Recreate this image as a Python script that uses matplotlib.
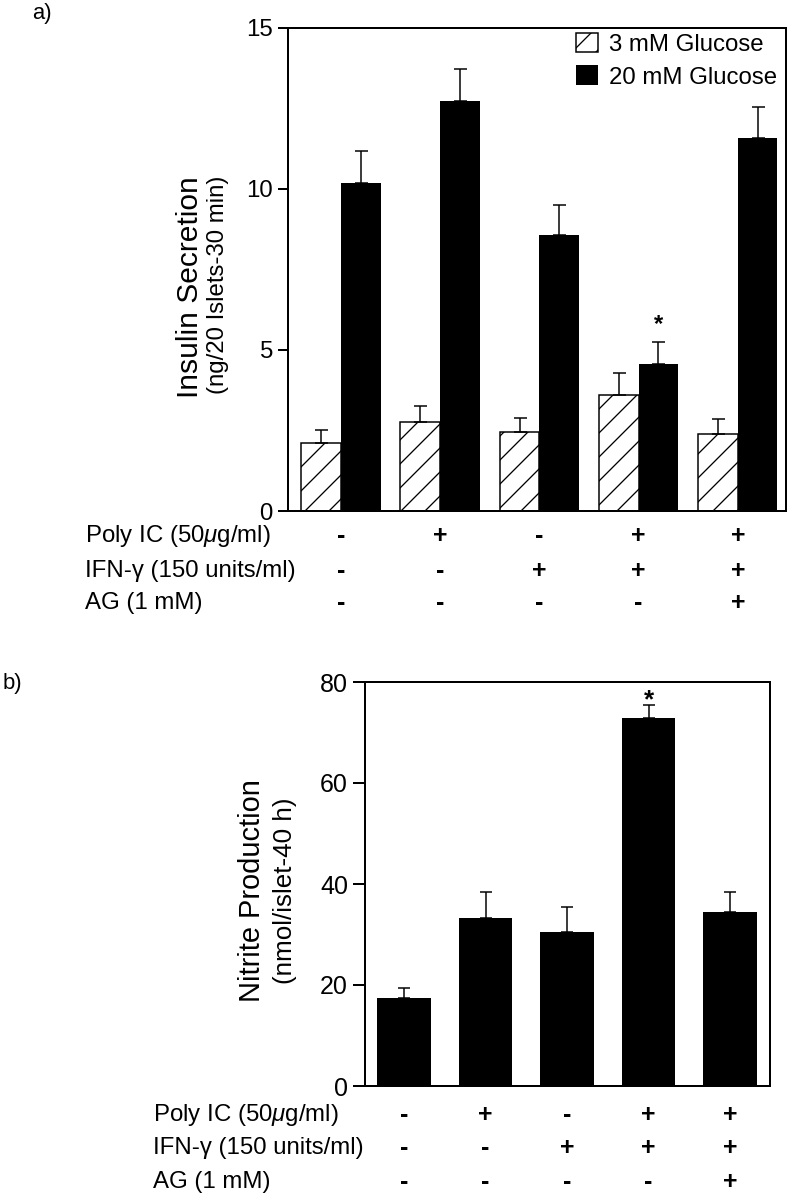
import matplotlib.pyplot as plt
import numpy as np

plt.rcParams['font.family'] = ['Liberation Sans', 'DejaVu Sans']
plt.rcParams['mathtext.fontset'] = 'custom'
plt.rcParams['mathtext.rm'] = 'Liberation Sans'
plt.rcParams['mathtext.it'] = 'Liberation Sans:italic'
plt.rcParams['hatch.linewidth'] = 1.3

# treatment table (same for both panels)
row_labels = ['Poly IC (50$\\mu$g/ml)', 'IFN-\u03b3 (150 units/ml)', 'AG (1 mM)']
poly_ic = ['-', '+', '-', '+', '+']
ifn_gamma = ['-', '-', '+', '+', '+']
ag = ['-', '-', '-', '-', '+']

# panel a - insulin secretion
insulin_3mM = [2.1, 2.76, 2.45, 3.6, 2.39]
insulin_3mM_err = [0.4, 0.5, 0.45, 0.7, 0.47]
insulin_20mM = [10.19, 12.73, 8.57, 4.57, 11.58]
insulin_20mM_err = [0.99, 1.0, 0.93, 0.68, 0.97]

# panel b - nitrite production
nitrite = [17.4, 33.3, 30.5, 72.9, 34.5]
nitrite_err = [2.0, 5.1, 4.9, 2.5, 3.9]

W, H = 792, 1200
fig = plt.figure(figsize=(W / 72, H / 72), dpi=72)


def px_axes(left, top, right, bottom):
    return fig.add_axes([left / W, 1 - bottom / H, (right - left) / W, (bottom - top) / H])


def style_axes(ax, ticklen, tickfs):
    for s in ax.spines.values():
        s.set_linewidth(2)
    ax.set_xticks([])
    ax.tick_params(axis='y', direction='out', length=ticklen, width=2, pad=5, labelsize=tickfs)


def treatment_rows(ax, rows_px, top, bot, label_x):
    x = np.arange(5)
    for rowy, lab, signs in zip(rows_px, row_labels, [poly_ic, ifn_gamma, ag]):
        fig.text(label_x / W, 1 - rowy / H, lab, fontsize=24, va='center', ha='left')
        yax = (bot - rowy) / (bot - top)
        for xi, s in zip(x, signs):
            ax.text(xi, yax, s, transform=ax.get_xaxis_transform(), fontsize=25,
                    fontweight='bold', ha='center', va='center')


# ---------------- panel a ----------------
a_top, a_bot = 28, 511
ax1 = px_axes(288, a_top, 786, a_bot)
x = np.arange(5)
w = 0.40
ax1.bar(x - w / 2, insulin_3mM, w, color='white', edgecolor='black', hatch='/',
        linewidth=1.5, label='3 mM Glucose')
ax1.bar(x + w / 2, insulin_20mM, w, color='black', edgecolor='black', linewidth=0,
        label='20 mM Glucose')
ax1.errorbar(x - w / 2, insulin_3mM, yerr=[np.zeros(5), insulin_3mM_err], fmt='none',
             ecolor='black', elinewidth=1.5, capsize=6.5, capthick=1.5)
ax1.errorbar(x + w / 2, insulin_20mM, yerr=[np.zeros(5), insulin_20mM_err], fmt='none',
             ecolor='black', elinewidth=1.5, capsize=6.5, capthick=1.5)
ax1.set_xlim(-0.534, 4.486)
ax1.set_ylim(0, 15)
ax1.set_yticks([0, 5, 10, 15])
style_axes(ax1, 10, 24)
ax1.text(3 + w / 2, 5.6, '*', fontsize=24, fontweight='bold', ha='center', va='baseline')
ax1.legend(loc='upper left', bbox_to_anchor=(0.578, 0.99), frameon=False, fontsize=24,
           handlelength=0.92, handleheight=0.875, handletextpad=0.45, labelspacing=0.4,
           borderpad=0, borderaxespad=0)

treatment_rows(ax1, [536, 571, 603], a_top, a_bot, 85)

fig.text(190 / W, 1 - 287 / H, 'Insulin Secretion', rotation=90, fontsize=30,
         ha='center', va='center')
fig.text(218 / W, 1 - 285 / H, '(ng/20 Islets-30 min)', rotation=90, fontsize=24,
         ha='center', va='center')
fig.text(32 / W, 1 - 13 / H, 'a)', fontsize=22, ha='left', va='center')

# ---------------- panel b ----------------
b_top, b_bot = 682, 1086
ax2 = px_axes(365, b_top, 770, b_bot)
ax2.bar(x, nitrite, 0.66, color='black', linewidth=0)
ax2.errorbar(x, nitrite, yerr=[np.zeros(5), nitrite_err], fmt='none',
             ecolor='black', elinewidth=1.5, capsize=6, capthick=1.5)
ax2.set_xlim(-0.48, 4.49)
ax2.set_ylim(0, 80)
ax2.set_yticks([0, 20, 40, 60, 80])
style_axes(ax2, 12, 25)
ax2.text(3, 75.0, '*', fontsize=26, fontweight='bold', ha='center', va='baseline')

treatment_rows(ax2, [1115, 1148, 1182], b_top, b_bot, 153)

fig.text(252 / W, 1 - 891 / H, 'Nitrite Production', rotation=90, fontsize=29,
         ha='center', va='center')
fig.text(285 / W, 1 - 891 / H, '(nmol/islet-40 h)', rotation=90, fontsize=26,
         ha='center', va='center')
fig.text(3 / W, 1 - 683 / H, 'b)', fontsize=22, ha='left', va='center')

fig.savefig('out.png', dpi=72)
